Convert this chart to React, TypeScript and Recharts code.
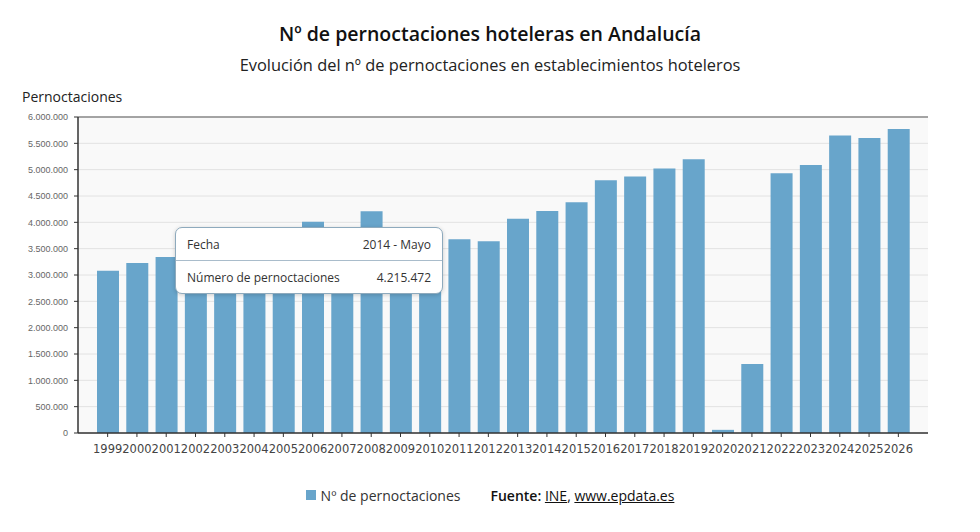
import { BarChart, Bar, XAxis, YAxis, CartesianGrid, Tooltip, Legend, ReferenceLine } from 'recharts'

const years = [
  '1999', '2000', '2001', '2002', '2003', '2004', '2005', '2006', '2007', '2008',
  '2009', '2010', '2011', '2012', '2013', '2014', '2015', '2016', '2017', '2018',
  '2019', '2020', '2021', '2022', '2023', '2024', '2025', '2026',
]

const pernoctaciones = [
  3080000, 3230000, 3340000, 3420000, 3480000, 3600000, 3780000, 4010000, 3850000, 4210000,
  3620000, 3590000, 3680000, 3640000, 4070000, 4215472, 4380000, 4800000, 4870000, 5020000,
  5200000, 60000, 1310000, 4930000, 5090000, 5650000, 5600000, 5770000,
]

const yTicks = [0, 500000, 1000000, 1500000, 2000000, 2500000, 3000000, 3500000, 4000000, 4500000, 5000000, 5500000, 6000000]

const mes = 'Mayo'
const tooltipIndex = 15

const data = years.map((year, i) => ({ year, value: pernoctaciones[i] }))

const BAR_COLOR = '#68a5cb'
const FONT = '"Open Sans", "DejaVu Sans", sans-serif'

const fmt = (n: number) => String(Math.round(n)).replace(/\B(?=(\d{3})+(?!\d))/g, '.')

function TooltipBox({ active, payload, label }: any) {
  if (!active || !payload || !payload.length) return null
  const row = { display: 'flex', justifyContent: 'space-between', padding: '0 11px', height: 32, alignItems: 'center' }
  return (
    <div
      style={{
        width: 266,
        background: '#fff',
        border: '1.5px solid #8eaabd',
        borderRadius: 7,
        boxShadow: '0 1px 4px rgba(0,0,0,0.18)',
        fontFamily: FONT,
        fontSize: 12,
        color: '#333',
      }}
    >
      <div style={{ ...row, borderBottom: '1.5px solid #a9bccb' }}>
        <span>Fecha</span>
        <span>{label} - {mes}</span>
      </div>
      <div style={row}>
        <span>Número de pernoctaciones</span>
        <span>{fmt(payload[0].value)}</span>
      </div>
    </div>
  )
}

function LegendBox() {
  return (
    <div style={{ height: 24, display: 'flex', justifyContent: 'center', alignItems: 'center', fontFamily: FONT, fontSize: 14, color: '#333' }}>
      <span style={{ display: 'inline-block', width: 10, height: 10, background: BAR_COLOR, marginRight: 5 }} />
      <span>Nº de pernoctaciones</span>
      <span style={{ marginLeft: 30, color: '#111' }}>
        <b style={{ fontWeight: 600 }}>Fuente:</b> <u>INE</u>, <u>www.epdata.es</u>
      </span>
    </div>
  )
}

export default function App() {
  return (
    <div style={{ position: 'absolute', left: 0, top: 0, width: 980, height: 532, background: '#fff', fontFamily: FONT }}>
      <div style={{ position: 'absolute', top: 20, left: 0, width: 980, textAlign: 'center', fontSize: 19.5, fontWeight: 600, color: '#111', lineHeight: '28px' }}>
        Nº de pernoctaciones hoteleras en Andalucía
      </div>
      <div style={{ position: 'absolute', top: 53, left: 0, width: 980, textAlign: 'center', fontSize: 16.4, color: '#222', lineHeight: '24px' }}>
        Evolución del nº de pernoctaciones en establecimientos hoteleros
      </div>
      <div style={{ position: 'absolute', top: 87, left: 22, fontSize: 14, color: '#222', lineHeight: '20px' }}>
        Pernoctaciones
      </div>
      <div style={{ position: 'absolute', left: 0, top: 0 }}>
        <BarChart width={980} height={532} data={data} margin={{ top: 117, right: 52, left: 8, bottom: 45 }}>
          <CartesianGrid vertical={false} stroke="#e2e2e2" fill="#f9f9f9" />
          <XAxis
            dataKey="year"
            interval={0}
            padding={{ left: 15, right: 15 }}
            height={30}
            tickSize={4}
            tickMargin={8}
            axisLine={{ stroke: '#333', strokeWidth: 1.5 }}
            tickLine={{ stroke: '#333' }}
            tick={{ fill: '#444', fontSize: 11.5, fontFamily: '"DejaVu Sans", sans-serif' }}
          />
          <YAxis
            width={70}
            domain={[0, 6000000]}
            ticks={yTicks}
            interval={0}
            tickFormatter={fmt}
            tickSize={4}
            tickMargin={6}
            axisLine={{ stroke: '#333', strokeWidth: 1.5 }}
            tickLine={{ stroke: '#333' }}
            tick={{ fill: '#666', fontSize: 9, fontFamily: '"Liberation Sans", Arial, sans-serif' }}
          />
          <ReferenceLine y={6000000} stroke="#8a8a8a" strokeWidth={1.5} />
          <Tooltip
            active
            defaultIndex={tooltipIndex}
            position={{ x: 175, y: 227 }}
            cursor={false}
            isAnimationActive={false}
            content={<TooltipBox />}
          />
          <Legend
            verticalAlign="bottom"
            content={<LegendBox />}
            wrapperStyle={{ top: 483, bottom: 'auto', left: 0, width: 980 }}
          />
          <Bar dataKey="value" name="Nº de pernoctaciones" fill={BAR_COLOR} barSize={22} isAnimationActive={false} />
        </BarChart>
      </div>
    </div>
  )
}
